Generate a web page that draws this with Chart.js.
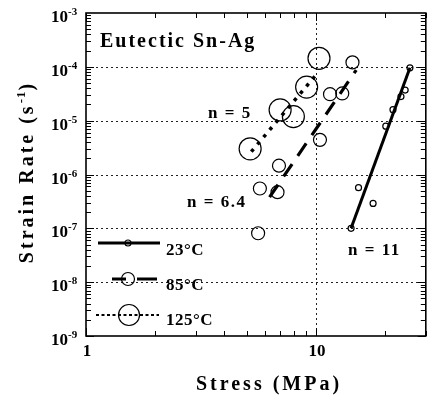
<!DOCTYPE html>
<html>
<head>
<meta charset="utf-8">
<script src="https://cdn.jsdelivr.net/npm/chart.js@4/dist/chart.umd.min.js"></script>
<style>
	html, body { margin: 0; padding: 0; background: #fff; }
	#wrap { width: 438px; height: 400px; }
</style>
</head>
<body>
<div id="wrap"><canvas id="chart" width="438" height="400"></canvas></div>
<script>
const stress23 = [14.2, 15.3, 17.7, 20.1, 21.6, 23.4, 24.4, 25.6];
const rate23 = [1.0e-7, 5.7e-7, 2.9e-7, 7.9e-6, 1.6e-5, 2.8e-5, 3.7e-5, 9.6e-5];
const stress85 = [5.6, 5.7, 6.8, 6.9, 10.4, 11.5, 13.0, 14.4];
const rate85 = [8.1e-8, 5.5e-7, 4.7e-7, 1.46e-6, 4.4e-6, 3.1e-5, 3.2e-5, 1.21e-4];
const stress125 = [5.17, 6.98, 7.97, 9.1, 10.3];
const rate125 = [3.0e-6, 1.58e-5, 1.19e-5, 4.2e-5, 1.44e-4];

// power law fit lines (end points)
const fit23Stress = [14.2, 25.6];
const fit23Rate = [1.0e-7, 9.6e-5];
const fit85Stress = [6.28, 14.95];
const fit85Rate = [3.8e-7, 8.7e-5];
const fit125Stress = [5.23, 10.06];
const fit125Rate = [2.65e-6, 7.3e-5];

// axis ticks
const xMajor = [1, 10];
const xLabels = ['1', '10'];
const yMajor = [1e-3, 1e-4, 1e-5, 1e-6, 1e-7, 1e-8, 1e-9];
const yExp = ['-3', '-4', '-5', '-6', '-7', '-8', '-9'];

const legendLabels = ['23°C', '85°C', '125°C'];
const slopeLabels = ['n = 5', 'n = 6.4', 'n = 11'];

const serif = '"Liberation Serif", "Times New Roman", serif';

function pts(xs, ys) {
	return xs.map((x, i) => ({x: x, y: ys[i]}));
}

function pointSet(label, xs, ys, r) {
	return {
		label: label, data: pts(xs, ys), showLine: false,
		pointRadius: r, pointHoverRadius: r, pointStyle: 'circle',
		pointBackgroundColor: 'rgba(0,0,0,0)', pointBorderColor: '#000', pointBorderWidth: 1.2
	};
}

function lineSet(label, xs, ys, width, dash) {
	return {
		label: label, data: pts(xs, ys), showLine: true, pointRadius: 0,
		borderColor: '#000', borderWidth: width, borderDash: dash, borderCapStyle: 'butt'
	};
}

// ticks, grid, frame, labels and legend
const decor = {
	id: 'decor',
	beforeDatasetsDraw(chart) {
		const ctx = chart.ctx, a = chart.chartArea;
		const xs = chart.scales.x, ys = chart.scales.y;
		ctx.save();
		ctx.strokeStyle = '#222';
		ctx.lineWidth = 1;
		ctx.setLineDash([2, 3]);
		yMajor.slice(1, -1).forEach(v => {
			const py = Math.round(ys.getPixelForValue(v)) + 0.5;
			ctx.beginPath(); ctx.moveTo(a.left, py); ctx.lineTo(a.right, py); ctx.stroke();
		});
		const gx = Math.round(xs.getPixelForValue(10)) + 0.5;
		ctx.beginPath(); ctx.moveTo(gx, a.top); ctx.lineTo(gx, a.bottom); ctx.stroke();
		ctx.restore();
	},
	afterDraw(chart) {
		const ctx = chart.ctx, a = chart.chartArea;
		const xs = chart.scales.x, ys = chart.scales.y;
		ctx.save();
		ctx.strokeStyle = '#000';
		ctx.fillStyle = '#000';

		// inward ticks
		ctx.lineWidth = 1;
		for (let d = -9; d < -3; d++) {
			for (let m = 1; m < 10; m++) {
				const py = Math.round(ys.getPixelForValue(m * Math.pow(10, d))) + 0.5;
				const len = m == 1 ? 8 : 5;
				ctx.beginPath();
				ctx.moveTo(a.left, py); ctx.lineTo(a.left + len, py);
				ctx.moveTo(a.right, py); ctx.lineTo(a.right - len, py);
				ctx.stroke();
			}
		}
		for (let d = 0; d < 2; d++) {
			for (let m = 1; m < 10; m++) {
				const v = m * Math.pow(10, d);
				if (v > 30) break;
				const px = Math.round(xs.getPixelForValue(v)) + 0.5;
				const len = m == 1 ? 8 : 5;
				ctx.beginPath();
				ctx.moveTo(px, a.bottom); ctx.lineTo(px, a.bottom - len);
				ctx.moveTo(px, a.top); ctx.lineTo(px, a.top + len);
				ctx.stroke();
			}
		}

		// frame
		ctx.lineWidth = 1.6;
		ctx.strokeRect(a.left, a.top, a.right - a.left, a.bottom - a.top);

		// y tick labels with superscript
		yMajor.forEach((v, i) => {
			const py = ys.getPixelForValue(v);
			ctx.font = 'bold 17px ' + serif;
			ctx.textAlign = 'right';
			ctx.textBaseline = 'alphabetic';
			ctx.fillText('10', 68, py + 9);
			ctx.font = 'bold 11px ' + serif;
			ctx.textAlign = 'left';
			ctx.fillText(yExp[i], 68, py + 2);
		});

		// x tick labels
		ctx.font = 'bold 17px ' + serif;
		ctx.textAlign = 'center';
		xMajor.forEach((v, i) => {
			ctx.fillText(xLabels[i], xs.getPixelForValue(v) + 1, 356);
		});

		// axis titles
		ctx.font = 'bold 20px ' + serif;
		ctx.letterSpacing = '3px';
		ctx.textAlign = 'center';
		ctx.fillText('Stress (MPa)', 269, 390);

		ctx.translate(33, 172);
		ctx.rotate(-Math.PI / 2);
		ctx.textAlign = 'left';
		const t1 = 'Strain Rate (s';
		const w1 = ctx.measureText(t1).width;
		ctx.font = 'bold 13px ' + serif;
		ctx.letterSpacing = '1px';
		const w2 = ctx.measureText('-1').width;
		ctx.font = 'bold 20px ' + serif;
		ctx.letterSpacing = '3px';
		const w3 = ctx.measureText(')').width;
		let sx = -(w1 + w2 + w3) / 2;
		ctx.fillText(t1, sx, 0);
		ctx.font = 'bold 13px ' + serif;
		ctx.letterSpacing = '1px';
		ctx.fillText('-1', sx + w1, -8);
		ctx.font = 'bold 20px ' + serif;
		ctx.letterSpacing = '3px';
		ctx.fillText(')', sx + w1 + w2, 0);
		ctx.setTransform(1, 0, 0, 1, 0, 0);

		// annotations
		ctx.font = 'bold 20px ' + serif;
		ctx.letterSpacing = '2px';
		ctx.textAlign = 'left';
		ctx.fillText('Eutectic Sn-Ag', 100, 47);
		ctx.font = 'bold 17px ' + serif;
		ctx.letterSpacing = '1.5px';
		ctx.fillText(slopeLabels[0], 208, 118);
		ctx.fillText(slopeLabels[1], 187, 207);
		ctx.fillText(slopeLabels[2], 348, 255);

		// legend
		ctx.setLineDash([]);
		ctx.lineCap = 'butt';
		// 23 C
		ctx.lineWidth = 3;
		ctx.beginPath(); ctx.moveTo(98, 243); ctx.lineTo(160, 243); ctx.stroke();
		ctx.lineWidth = 1.2;
		ctx.beginPath(); ctx.arc(128, 243, 3, 0, 2 * Math.PI); ctx.stroke();
		// 85 C
		ctx.lineWidth = 3;
		ctx.beginPath(); ctx.moveTo(112, 279); ctx.lineTo(126, 279);
		ctx.moveTo(137, 279); ctx.lineTo(157, 279); ctx.stroke();
		ctx.lineWidth = 1.2;
		ctx.beginPath(); ctx.arc(128, 279, 6.5, 0, 2 * Math.PI); ctx.stroke();
		// 125 C
		ctx.lineWidth = 2;
		ctx.setLineDash([3, 2.5]);
		ctx.beginPath(); ctx.moveTo(96, 315); ctx.lineTo(159, 315); ctx.stroke();
		ctx.setLineDash([]);
		ctx.lineWidth = 1.2;
		ctx.beginPath(); ctx.arc(129, 315, 10.5, 0, 2 * Math.PI); ctx.stroke();

		ctx.font = 'bold 17px ' + serif;
		ctx.letterSpacing = '0.5px';
		ctx.fillText(legendLabels[0], 166, 255);
		ctx.fillText(legendLabels[1], 166, 290);
		ctx.fillText(legendLabels[2], 166, 325);
		ctx.restore();
	}
};

new Chart(document.getElementById('chart'), {
	type: 'scatter',
	data: {
		datasets: [
			lineSet('fit 23', fit23Stress, fit23Rate, 3, []),
			lineSet('fit 85', fit85Stress, fit85Rate, 3.2, [15, 10]),
			lineSet('fit 125', fit125Stress, fit125Rate, 3.5, [3.5, 6]),
			pointSet('23°C', stress23, rate23, 3),
			pointSet('85°C', stress85, rate85, 6.5),
			pointSet('125°C', stress125, rate125, 11)
		]
	},
	options: {
		responsive: false,
		animation: false,
		layout: { padding: { top: 13, right: 9, left: 0, bottom: 0 } },
		plugins: { legend: { display: false }, tooltip: { enabled: false } },
		scales: {
			x: {
				type: 'logarithmic', min: 1, max: 30,
				grid: { display: false }, border: { display: false },
				ticks: { display: false },
				afterFit: s => { s.height = 64; }
			},
			y: {
				type: 'logarithmic', min: 1e-9, max: 1e-3,
				grid: { display: false }, border: { display: false },
				ticks: { display: false },
				afterFit: s => { s.width = 86; }
			}
		}
	},
	plugins: [decor]
});
</script>
</body>
</html>
